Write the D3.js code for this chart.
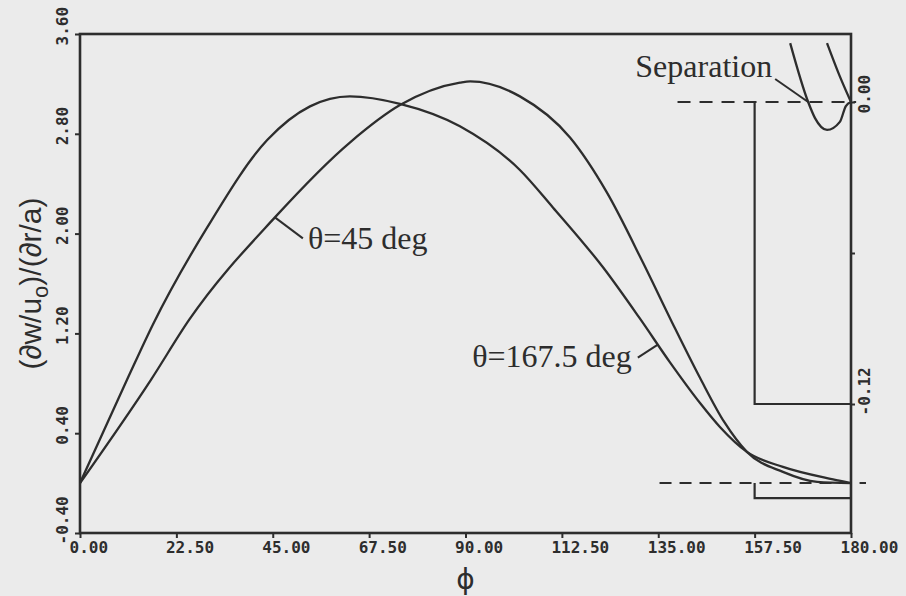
<!DOCTYPE html>
<html>
<head>
<meta charset="utf-8">
<script src="https://cdn.jsdelivr.net/npm/d3@7"></script>
<style>
  body { margin:0; background:#ebebeb; }
  svg { display:block; }
</style>
</head>
<body>
<svg id="chart" width="906" height="596"></svg>
<script>
var xTicks = [0, 22.5, 45, 67.5, 90, 112.5, 135, 157.5, 180];
var yTicks = [-0.4, 0.4, 1.2, 2.0, 2.8, 3.6];
var insetTicks = [0, -0.12];
var insetMinor = [-0.06];

// [phi, (dw/u0)/(dr/a)]
var theta45 = [[0,0],[16.6,0.83],[25.5,1.31],[45.5,2.13],[63.0,2.73],[74.7,3.03],[88.7,3.21],[91.1,3.22],[102.7,3.10],[114.4,2.77],[123.0,2.33],[131.4,1.77],[138.2,1.29],[144.8,0.84],[150.4,0.49],[155.7,0.25],[164.1,0.09],[172.1,0.01],[180,0]];
var theta167 = [[0,0],[11.0,0.83],[17.0,1.27],[29.7,2.05],[43.7,2.75],[53.7,3.02],[63.0,3.10],[74.7,3.04],[88.7,2.86],[102.7,2.51],[110.4,2.21],[122.1,1.73],[130.7,1.32],[137.7,0.97],[144.8,0.64],[149.4,0.45],[155.7,0.25],[164.1,0.13],[175.8,0.03],[180,0]];

// blown up part near phi = 180 (range 0 .. -0.12)
var inset45 = [[165.8,0.0234],[170.0,0],[171.6,-0.0064],[174.4,-0.0111],[177.4,-0.0079],[178.8,-0.0016],[180,0]];
var inset167 = [[174.4,0.0234],[177.2,0.011],[180,0]];
var insetPhi = [157.5, 180];
var insetRange = [-0.12, 0];

var svg = d3.select("#chart");
var m = {left:80, right:851, top:34, bottom:533};
var ink = "#2d2d2d";
var tickFont = "'DejaVu Sans Mono', monospace";
var serif = "'Liberation Serif', 'Times New Roman', serif";

var x = d3.scaleLinear().domain([0,180]).range([m.left, m.right]);
var y = d3.scaleLinear().domain([-0.4,3.6]).range([m.bottom, m.top]);
var yIn = d3.scaleLinear().domain(insetRange).range([404,102]);

var line = d3.line().x(d => x(d[0])).y(d => y(d[1])).curve(d3.curveMonotoneX);
var lineIn = d3.line().x(d => x(d[0])).y(d => yIn(d[1])).curve(d3.curveMonotoneX);

function fmt(v){ return v.toFixed(2); }

// x axis
var gx = svg.append("g").attr("transform","translate(0,"+m.bottom+")")
  .call(d3.axisBottom(x).tickValues(xTicks).tickSize(5).tickSizeOuter(0).tickFormat(fmt));
gx.select(".domain").remove();
gx.selectAll("line").attr("stroke",ink).attr("stroke-width",2);
gx.selectAll("text").attr("text-anchor","start").attr("x",-11).attr("y",20).attr("dy",null)
  .attr("fill",ink).style("font","bold 16px "+tickFont);

// y axis
var gy = svg.append("g").attr("transform","translate("+m.left+",0)")
  .call(d3.axisLeft(y).tickValues(yTicks).tickSize(5).tickSizeOuter(0).tickFormat(fmt));
gy.select(".domain").remove();
gy.selectAll("line").attr("stroke",ink).attr("stroke-width",2);
gy.selectAll("text").attr("transform","rotate(-90)").attr("text-anchor","start")
  .attr("x",-11).attr("y",-12).attr("dy",null)
  .attr("fill",ink).style("font","bold 16px "+tickFont);

// right axis for the blown up part
var gr = svg.append("g").attr("transform","translate("+m.right+",0)")
  .call(d3.axisRight(yIn).tickValues(insetTicks.concat(insetMinor)).tickSize(4).tickSizeOuter(0)
    .tickFormat(d => insetTicks.indexOf(d) >= 0 ? fmt(d) : ""));
gr.select(".domain").remove();
gr.selectAll("line").attr("stroke",ink).attr("stroke-width",2);
gr.selectAll("text").attr("transform","rotate(-90)").attr("text-anchor","start")
  .attr("x",-11).attr("y",19).attr("dy",null)
  .attr("fill",ink).style("font","bold 16px "+tickFont);

// frame
svg.append("rect")
  .attr("x",m.left).attr("y",m.top)
  .attr("width",m.right-m.left).attr("height",m.bottom-m.top)
  .attr("fill","none").attr("stroke",ink).attr("stroke-width",2.6);

// dashed zero lines: main and blown up
svg.append("line")
  .attr("x1",x(139.5)).attr("x2",x(181.2))
  .attr("y1",yIn(0)).attr("y2",yIn(0))
  .attr("stroke",ink).attr("stroke-width",2).attr("stroke-dasharray","13,9");
svg.append("line")
  .attr("x1",x(135.3)).attr("x2",x(183.5))
  .attr("y1",y(0)).attr("y2",y(0))
  .attr("stroke",ink).attr("stroke-width",2).attr("stroke-dasharray","12,8");

// brackets: small region and its magnification
svg.append("path")
  .attr("d","M"+x(insetPhi[0])+","+y(insetRange[1])+"V"+y(insetRange[0])+"H"+x(insetPhi[1]))
  .attr("fill","none").attr("stroke",ink).attr("stroke-width",2.2);
svg.append("path")
  .attr("d","M"+x(insetPhi[0])+","+yIn(insetRange[1])+"V"+yIn(insetRange[0])+"H"+x(insetPhi[1]))
  .attr("fill","none").attr("stroke",ink).attr("stroke-width",2.2);

// curves
[theta45, theta167].forEach(function(s){
  svg.append("path").datum(s).attr("d",line)
    .attr("fill","none").attr("stroke",ink).attr("stroke-width",2.3);
});
[inset45, inset167].forEach(function(s){
  svg.append("path").datum(s).attr("d",lineIn)
    .attr("fill","none").attr("stroke",ink).attr("stroke-width",2.3);
});

// labels with leaders
function label(px, py, dx1, dy1, tx, ty, anchor, txt){
  svg.append("line").attr("x1",px).attr("y1",py).attr("x2",px+dx1).attr("y2",py+dy1)
    .attr("stroke",ink).attr("stroke-width",2);
  svg.append("text").attr("x",px+tx).attr("y",py+ty).attr("text-anchor",anchor)
    .attr("fill",ink).style("font","32px "+serif).text(txt);
}
label(x(45.5), y(2.13), 28, 21, 33, 32, "start", "\u03b8=45 deg");
label(x(134.9), y(1.11), -20, 13, -26, 22, "end", "\u03b8=167.5 deg");
label(x(170), yIn(0), -33, -23, -36, -25, "end", "Separation");

// axis titles
var yt = svg.append("text")
  .attr("transform","translate(41,"+((m.top+m.bottom)/2)+") rotate(-90)")
  .attr("text-anchor","middle").attr("fill",ink)
  .style("font","30px 'Liberation Sans', Arial, sans-serif");
yt.append("tspan").text("(\u2202w/u");
yt.append("tspan").attr("dy",7).style("font-size","22px").text("o");
yt.append("tspan").attr("dy",-7).text(")/(\u2202r/a)");

svg.append("text").attr("x",x(90)).attr("y",589).attr("text-anchor","middle")
  .attr("fill",ink).style("font","28px 'DejaVu Sans', sans-serif").text("\u03d5");
</script>
</body>
</html>
